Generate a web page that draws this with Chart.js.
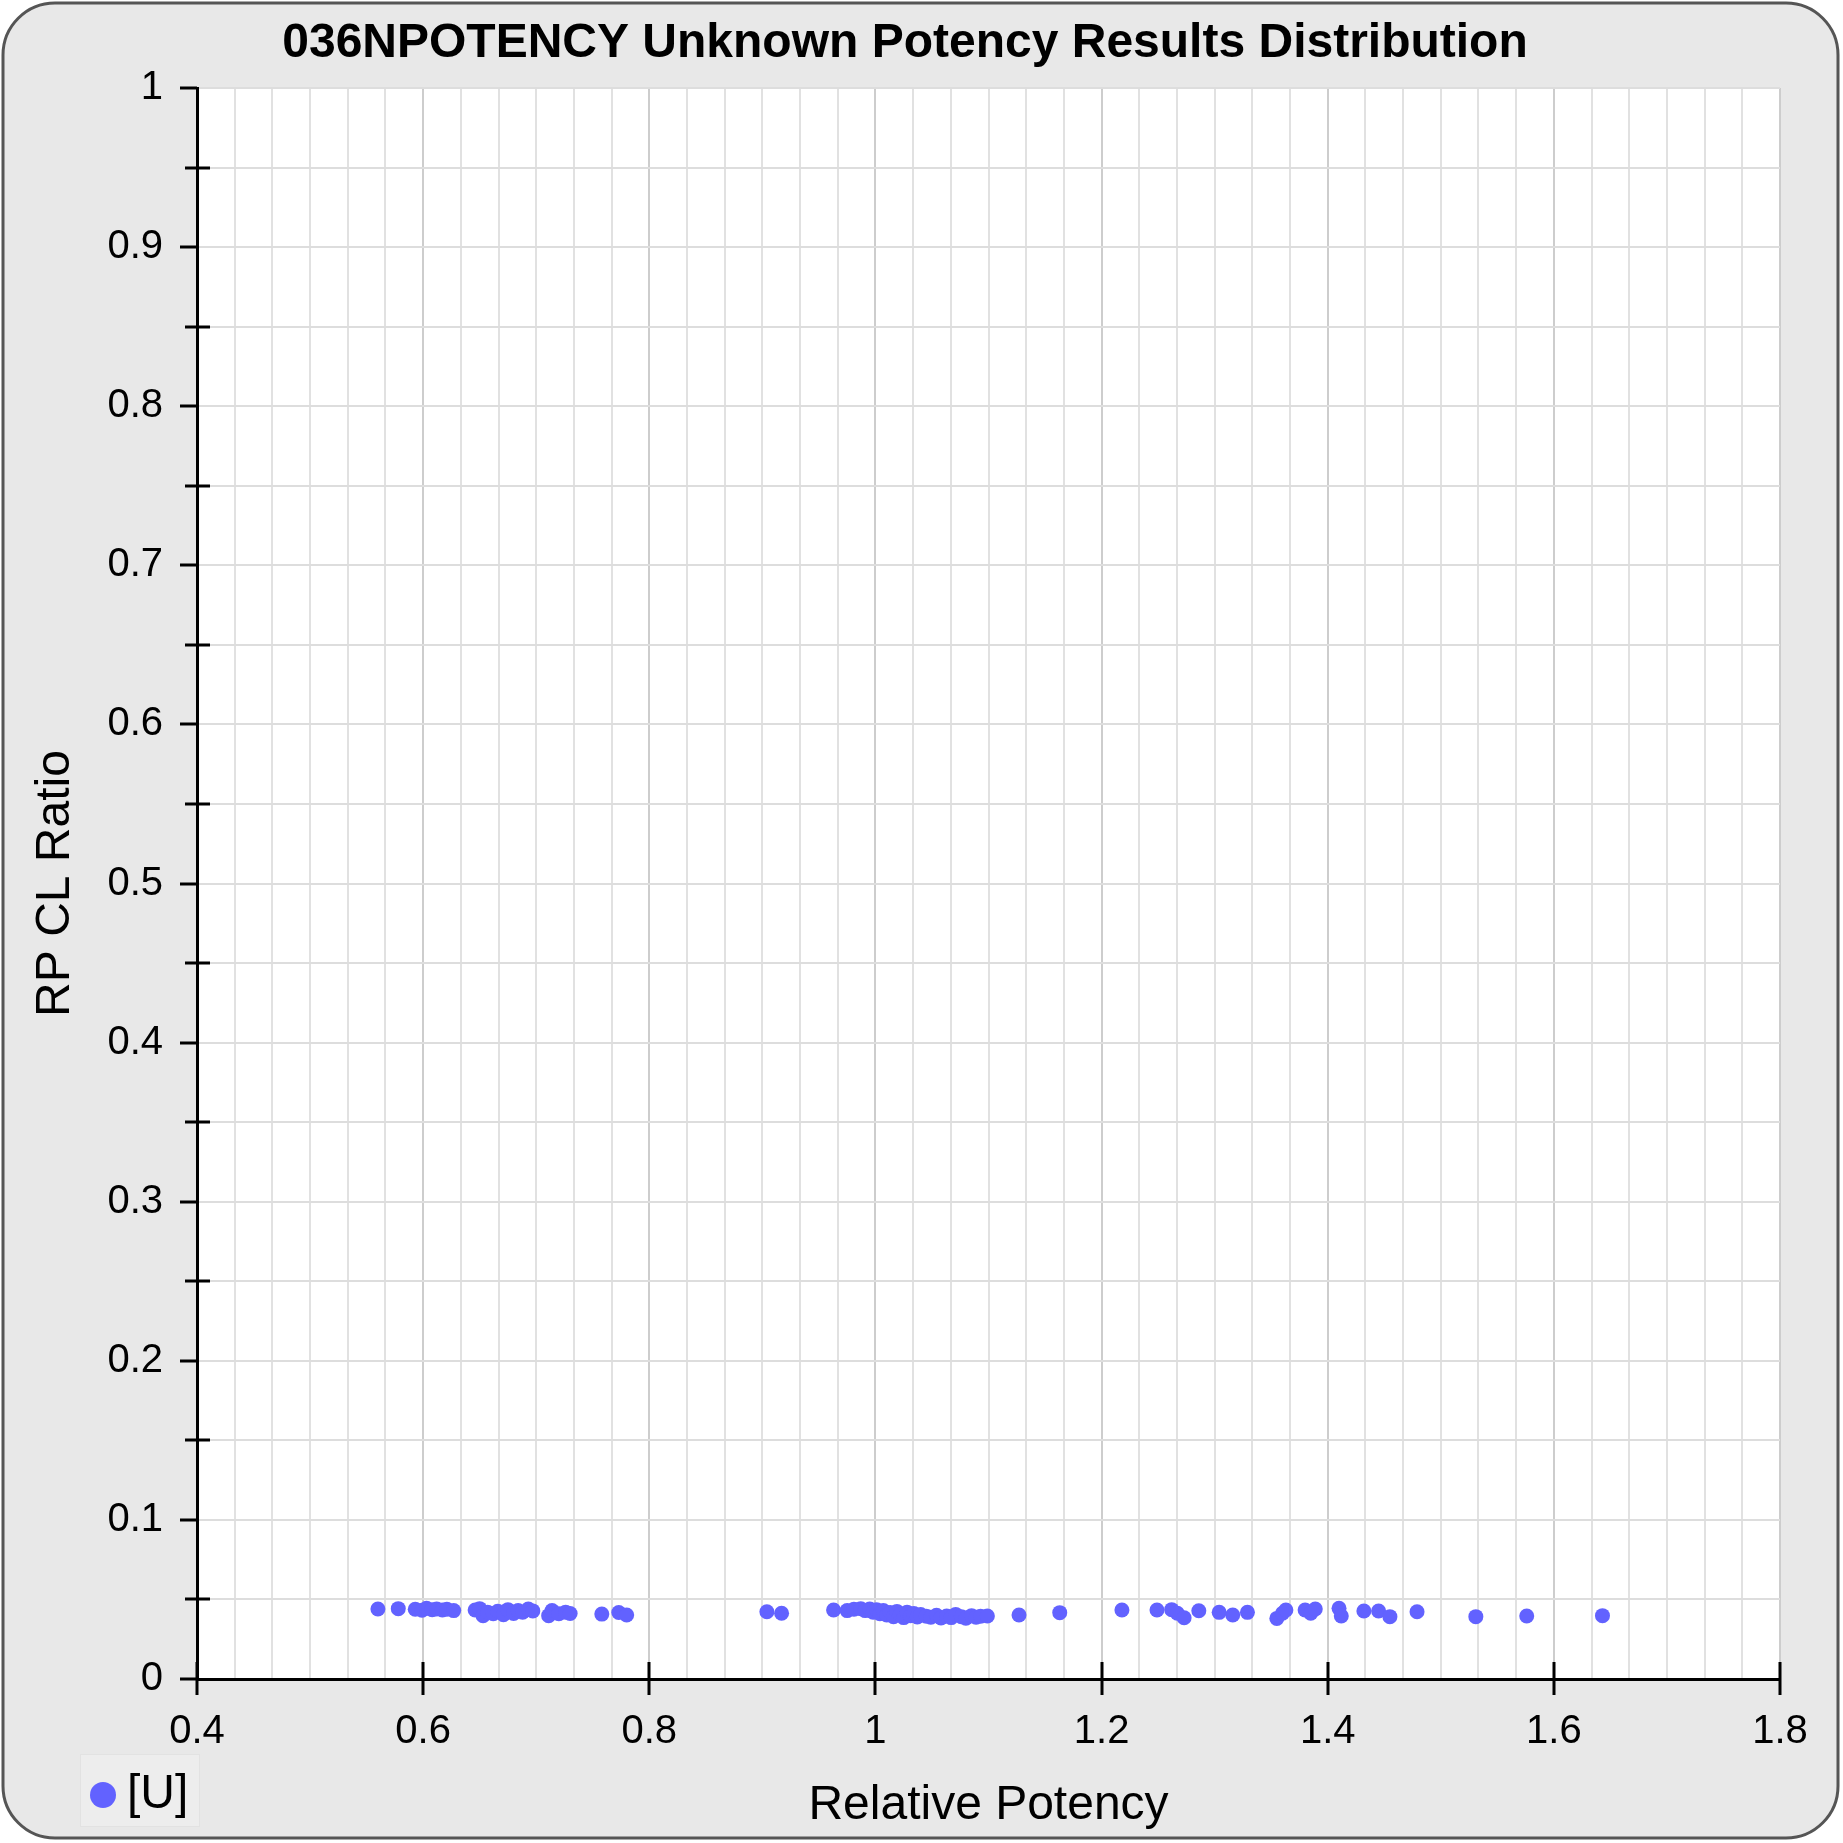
<!DOCTYPE html>
<html>
<head>
<meta charset="utf-8">
<script src="https://cdn.jsdelivr.net/npm/chart.js@4.4.1/dist/chart.umd.min.js"></script>
<style>
  html, body { margin: 0; padding: 0; background: #ffffff; }
  #c { display: block; }
</style>
</head>
<body>
<canvas id="c" width="1843" height="1843"></canvas>
<script>
// ---- Data ----
const TITLE = '036NPOTENCY Unknown Potency Results Distribution';
const X_TITLE = 'Relative Potency';
const Y_TITLE = 'RP CL Ratio';
const SERIES_LABEL = '[U]';

const X_TICK_LABELS = ['0.4', '0.6', '0.8', '1', '1.2', '1.4', '1.6', '1.8'];
const Y_TICK_LABELS = ['0', '0.1', '0.2', '0.3', '0.4', '0.5', '0.6', '0.7', '0.8', '0.9', '1'];

const RELATIVE_POTENCY = [
  0.560, 0.578, 0.593, 0.599, 0.603, 0.608, 0.612, 0.617, 0.621, 0.627,
  0.646, 0.650, 0.653, 0.657, 0.662, 0.666, 0.671, 0.675, 0.680, 0.684, 0.688, 0.693, 0.697,
  0.711, 0.714, 0.720, 0.726, 0.730, 0.758, 0.773, 0.780,
  0.904, 0.917, 0.963, 0.975, 0.981, 0.987, 0.991, 0.995, 0.998, 1.001, 1.004, 1.007,
  1.010, 1.013, 1.016, 1.019, 1.022, 1.025, 1.028, 1.031, 1.034, 1.037, 1.040, 1.045,
  1.049, 1.054, 1.058, 1.063, 1.067, 1.071, 1.076, 1.080, 1.085, 1.089, 1.093, 1.099, 1.127,
  1.163, 1.218, 1.249, 1.262, 1.267, 1.273, 1.286, 1.304, 1.316, 1.329, 1.355, 1.360,
  1.363, 1.380, 1.385, 1.389, 1.410, 1.412, 1.432, 1.445, 1.455, 1.479, 1.531, 1.576, 1.643
];
const RP_CL_RATIO = [
  0.0440, 0.0442, 0.0438, 0.0432, 0.0444, 0.0436, 0.0440, 0.0434, 0.0438, 0.0430,
  0.0434, 0.0442, 0.0398, 0.0420, 0.0410, 0.0426, 0.0404, 0.0436, 0.0412, 0.0430, 0.0420, 0.0440, 0.0428,
  0.0398, 0.0430, 0.0410, 0.0420, 0.0412, 0.0408, 0.0418, 0.0402,
  0.0423, 0.0413, 0.0434, 0.0430, 0.0438, 0.0442, 0.0430, 0.0440, 0.0420, 0.0436, 0.0410, 0.0430,
  0.0402, 0.0418, 0.0392, 0.0425, 0.0405, 0.0386, 0.0420, 0.0398, 0.0412, 0.0390, 0.0405, 0.0395,
  0.0388, 0.0400, 0.0384, 0.0396, 0.0386, 0.0406, 0.0392, 0.0382, 0.0398, 0.0388, 0.0394, 0.0396, 0.0402,
  0.0417, 0.0434, 0.0434, 0.0436, 0.0413, 0.0385, 0.0429, 0.0419, 0.0402, 0.0419, 0.0381, 0.0413,
  0.0434, 0.0434, 0.0413, 0.0440, 0.0444, 0.0396, 0.0427, 0.0427, 0.0392, 0.0423, 0.0392, 0.0396, 0.0398
];

const X_MIN = 0.4, X_MAX = 1.8, X_SUB = 6;   // gridlines per labelled step
const Y_MIN = 0, Y_MAX = 1, Y_SUB = 2;

// ---- Styles ----
const FONT = '"Liberation Sans", Arial, sans-serif';
const POINT_COLOR = '#6262ff';
const PANEL_BG = '#e8e8e8';

const points = RELATIVE_POTENCY.map((x, i) => ({ x: x, y: RP_CL_RATIO[i] }));

const xStep = (X_MAX - X_MIN) / (X_TICK_LABELS.length - 1) / X_SUB;
const yStep = (Y_MAX - Y_MIN) / (Y_TICK_LABELS.length - 1) / Y_SUB;
const xCount = (X_TICK_LABELS.length - 1) * X_SUB;
const yCount = (Y_TICK_LABELS.length - 1) * Y_SUB;

const backgroundPlugin = {
  id: 'panelBg',
  beforeDraw(chart) {
    const ctx = chart.ctx;
    const W = chart.width, H = chart.height;
    ctx.save();
    ctx.fillStyle = '#ffffff';
    ctx.fillRect(0, 0, W, H);
    const x0 = 3, y0 = 3, x1 = W - 5, y1 = H - 5, r = 52;
    ctx.beginPath();
    ctx.moveTo(x0 + r, y0);
    ctx.lineTo(x1 - r, y0);
    ctx.arcTo(x1, y0, x1, y0 + r, r);
    ctx.lineTo(x1, y1 - r);
    ctx.arcTo(x1, y1, x1 - r, y1, r);
    ctx.lineTo(x0 + r, y1);
    ctx.arcTo(x0, y1, x0, y1 - r, r);
    ctx.lineTo(x0, y0 + r);
    ctx.arcTo(x0, y0, x0 + r, y0, r);
    ctx.closePath();
    ctx.fillStyle = PANEL_BG;
    ctx.fill();
    ctx.lineWidth = 3;
    ctx.strokeStyle = '#555555';
    ctx.stroke();
    const a = chart.chartArea;
    ctx.fillStyle = '#ffffff';
    ctx.fillRect(a.left, a.top, a.right - a.left, a.bottom - a.top);
    ctx.restore();
  }
};

const tickMarksPlugin = {
  id: 'tickMarks',
  afterDraw(chart) {
    const ctx = chart.ctx;
    const xs = chart.scales.x, ys = chart.scales.y;
    const a = chart.chartArea;
    ctx.save();
    ctx.strokeStyle = '#000000';
    ctx.lineWidth = 3;
    ctx.beginPath();
    for (let i = 0; i < X_TICK_LABELS.length; i++) {
      const px = Math.round(xs.getPixelForValue(X_MIN + i * xStep * X_SUB));
      ctx.moveTo(px, a.bottom - 17);
      ctx.lineTo(px, a.bottom + 16);
    }
    for (let j = 0; j <= yCount; j++) {
      const py = Math.round(ys.getPixelForValue(Y_MIN + j * yStep));
      if (j % Y_SUB === 0) {
        ctx.moveTo(a.left - 17, py);
        ctx.lineTo(a.left, py);
      } else {
        ctx.moveTo(a.left - 12, py);
        ctx.lineTo(a.left + 13, py);
      }
    }
    ctx.stroke();

    // legend
    const bx = 80, by = 1754, bw = 120, bh = 73;
    ctx.fillStyle = '#ededed';
    ctx.fillRect(bx, by, bw, bh);
    ctx.strokeStyle = '#e2e2e2';
    ctx.lineWidth = 1;
    ctx.strokeRect(bx + 0.5, by + 0.5, bw - 1, bh - 1);
    ctx.fillStyle = POINT_COLOR;
    ctx.beginPath();
    ctx.arc(103, 1795, 13, 0, Math.PI * 2);
    ctx.fill();
    ctx.fillStyle = '#000000';
    ctx.font = '48px ' + FONT;
    ctx.textBaseline = 'alphabetic';
    ctx.textAlign = 'left';
    ctx.fillText(SERIES_LABEL, 127, 1808);
    ctx.restore();
  }
};

new Chart(document.getElementById('c'), {
  type: 'scatter',
  data: {
    datasets: [{
      label: SERIES_LABEL,
      data: points,
      backgroundColor: POINT_COLOR,
      borderWidth: 0,
      pointRadius: 7.5,
      pointHoverRadius: 7.5
    }]
  },
  options: {
    responsive: false,
    animation: false,
    devicePixelRatio: 1,
    layout: { padding: { left: 30, right: 63, top: 0, bottom: 0 } },
    plugins: {
      legend: { display: false },
      tooltip: { enabled: false },
      title: {
        display: true,
        text: TITLE,
        color: '#000000',
        font: { family: FONT, size: 48, weight: 'bold', lineHeight: 1 },
        padding: { top: 20, bottom: 20 }
      }
    },
    scales: {
      x: {
        type: 'linear',
        min: X_MIN,
        max: X_MAX,
        afterFit(scale) { scale.height = 164; },
        afterBuildTicks(scale) {
          const t = [];
          for (let i = 0; i <= xCount; i++) t.push({ value: X_MIN + i * xStep });
          scale.ticks = t;
        },
        ticks: {
          autoSkip: false,
          maxRotation: 0,
          minRotation: 0,
          padding: 29,
          color: '#000000',
          font: { family: FONT, size: 40 },
          callback: (v, i) => (i % X_SUB === 0 ? X_TICK_LABELS[i / X_SUB] : '')
        },
        grid: {
          drawTicks: false,
          lineWidth: 2,
          color: (c) => (c.index % X_SUB === 0 ? '#cdcdcd' : '#e1e1e1')
        },
        border: { display: true, color: '#000000', width: 3 },
        title: {
          display: true,
          text: X_TITLE,
          color: '#000000',
          font: { family: FONT, size: 48, lineHeight: 1 },
          padding: { top: 0, bottom: 13 }
        }
      },
      y: {
        type: 'linear',
        min: Y_MIN,
        max: Y_MAX,
        afterFit(scale) { scale.width = 167; },
        afterBuildTicks(scale) {
          const t = [];
          for (let j = 0; j <= yCount; j++) t.push({ value: Y_MIN + j * yStep });
          scale.ticks = t;
        },
        ticks: {
          autoSkip: false,
          padding: 34,
          color: '#000000',
          font: { family: FONT, size: 40 },
          callback: (v, i) => (i % Y_SUB === 0 ? Y_TICK_LABELS[i / Y_SUB] : '')
        },
        grid: {
          drawTicks: false,
          lineWidth: 2,
          color: '#dddddd'
        },
        border: { display: true, color: '#000000', width: 3 },
        title: {
          display: true,
          text: Y_TITLE,
          color: '#000000',
          font: { family: FONT, size: 48, lineHeight: 1 },
          padding: { top: 2, bottom: 0 }
        }
      }
    }
  },
  plugins: [backgroundPlugin, tickMarksPlugin]
});
</script>
</body>
</html>
